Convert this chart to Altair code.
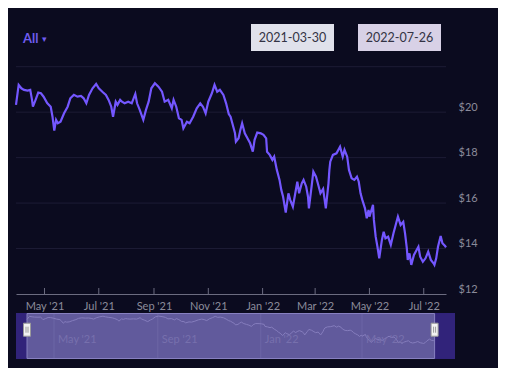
import altair as alt
import pandas as pd

# ---------------- data ----------------
dates = [
    "2021-03-30", "2021-04-02", "2021-04-05", "2021-04-08", "2021-04-12", "2021-04-15",
    "2021-04-17", "2021-04-18", "2021-04-21", "2021-04-24", "2021-04-27", "2021-04-30",
    "2021-05-04", "2021-05-08", "2021-05-10", "2021-05-12", "2021-05-14", "2021-05-16",
    "2021-05-19", "2021-05-23", "2021-05-27", "2021-05-30", "2021-06-03", "2021-06-07",
    "2021-06-11", "2021-06-14", "2021-06-17", "2021-06-20", "2021-06-24", "2021-06-28",
    "2021-07-01", "2021-07-05", "2021-07-09", "2021-07-12", "2021-07-15", "2021-07-17",
    "2021-07-20", "2021-07-22", "2021-07-25", "2021-07-27", "2021-07-30", "2021-08-03",
    "2021-08-07", "2021-08-11", "2021-08-13", "2021-08-16", "2021-08-20", "2021-08-23",
    "2021-08-26", "2021-08-29", "2021-09-02", "2021-09-06", "2021-09-10", "2021-09-13",
    "2021-09-17", "2021-09-21", "2021-09-23", "2021-09-26", "2021-09-29", "2021-10-02",
    "2021-10-04", "2021-10-08", "2021-10-11", "2021-10-15", "2021-10-19", "2021-10-23",
    "2021-10-26", "2021-10-29", "2021-11-01", "2021-11-05", "2021-11-08", "2021-11-11",
    "2021-11-14", "2021-11-18", "2021-11-21", "2021-11-24", "2021-11-26", "2021-11-28",
    "2021-12-01", "2021-12-02", "2021-12-05", "2021-12-07", "2021-12-09", "2021-12-12",
    "2021-12-15", "2021-12-18", "2021-12-21", "2021-12-23", "2021-12-26", "2021-12-30",
    "2022-01-02", "2022-01-05", "2022-01-06", "2022-01-09", "2022-01-12", "2022-01-14",
    "2022-01-17", "2022-01-20", "2022-01-22", "2022-01-24", "2022-01-27", "2022-01-30",
    "2022-02-01", "2022-02-04", "2022-02-06", "2022-02-09", "2022-02-11", "2022-02-14",
    "2022-02-16", "2022-02-19", "2022-02-21", "2022-02-22", "2022-02-25", "2022-02-27",
    "2022-03-02", "2022-03-04", "2022-03-07", "2022-03-10", "2022-03-13", "2022-03-16",
    "2022-03-17", "2022-03-18", "2022-03-21", "2022-03-25", "2022-03-29", "2022-04-01",
    "2022-04-03", "2022-04-06", "2022-04-08", "2022-04-11", "2022-04-14", "2022-04-17",
    "2022-04-19", "2022-04-21", "2022-04-23", "2022-04-26", "2022-04-28", "2022-04-30",
    "2022-05-01", "2022-05-05", "2022-05-06", "2022-05-08", "2022-05-10", "2022-05-12",
    "2022-05-15", "2022-05-17", "2022-05-19", "2022-05-22", "2022-05-25", "2022-05-28",
    "2022-05-31", "2022-06-02", "2022-06-05", "2022-06-08", "2022-06-10", "2022-06-12",
    "2022-06-13", "2022-06-15", "2022-06-17", "2022-06-20", "2022-06-23", "2022-06-25",
    "2022-06-27", "2022-06-30", "2022-07-03", "2022-07-06", "2022-07-09", "2022-07-12",
    "2022-07-13", "2022-07-15", "2022-07-17", "2022-07-20", "2022-07-22", "2022-07-25",
    "2022-07-26",
]
prices = [
    20.32, 21.20, 21.05, 20.98, 20.95, 20.98,
    20.54, 20.24, 20.54, 20.86, 20.83, 20.68,
    20.40, 20.24, 19.80, 19.19, 19.66, 19.51,
    19.58, 19.95, 20.24, 20.61, 20.76, 20.68,
    20.71, 20.61, 20.39, 20.76, 21.05, 21.24,
    21.05, 20.90, 20.76, 20.54, 20.24, 19.80,
    20.46, 20.32, 20.54, 20.46, 20.39, 20.46,
    20.39, 20.80, 20.39, 20.10, 19.66, 20.10,
    20.46, 21.05, 21.27, 21.12, 20.90, 20.46,
    20.54, 20.17, 20.54, 20.24, 19.73, 19.66,
    19.29, 19.58, 19.51, 19.80, 20.17, 20.39,
    20.24, 19.95, 20.46, 20.83, 21.20, 20.90,
    20.98, 20.76, 20.39, 19.92, 19.80, 19.51,
    19.07, 18.70, 18.85, 19.22, 19.51, 19.07,
    18.85, 18.63, 18.26, 18.78, 19.10, 19.07,
    19.00, 18.85, 18.26, 18.12, 17.90, 18.04,
    17.46, 17.02, 16.58, 16.28, 15.58, 16.43,
    16.14, 15.84, 16.28, 16.94, 16.43, 16.87,
    17.02, 16.72, 16.28, 15.77, 16.72, 17.38,
    17.16, 16.87, 16.43, 16.62, 15.77, 16.87,
    17.46, 17.82, 18.12, 18.19, 18.48, 18.04,
    18.34, 18.04, 17.46, 17.09, 17.02, 17.16,
    16.94, 16.43, 16.14, 15.77, 15.33, 15.70,
    15.40, 15.92, 15.26, 14.52, 14.08, 13.57,
    14.38, 14.74, 14.45, 14.52, 14.16, 14.67,
    15.11, 15.40, 15.04, 15.18, 14.67, 14.01,
    13.50, 13.79, 13.28, 13.72, 13.94, 14.08,
    13.64, 13.42, 13.57, 13.86, 13.50, 13.35,
    13.28, 13.57, 14.08, 14.55, 14.23, 14.11,
    14.05,
]

y_label_values = [12, 14, 16, 18, 20]
grid_values = [14, 16, 18, 20, 22]
x_tick_dates = ["2021-05-01", "2021-07-01", "2021-09-01", "2021-11-01",
                "2022-01-01", "2022-03-01", "2022-05-01", "2022-07-01"]
nav_tick_dates = ["2021-05-01", "2021-09-01", "2022-01-01", "2022-05-01"]
nav_tick_labels = ["May '21", "Sep '21", "Jan '22", "May '22"]
range_start = "2021-03-30"
range_end = "2022-07-26"
range_selector_label = "All"

# ---------------- styling ----------------
W, H = 490, 360
BG = "#0b0b1f"
GRID = "#1d1c35"
AXIS = "#6c6c80"
LABEL = "#8b8b9b"
LINE = "#7457ff"
PURPLE = "#6f5cf0"
NAV_OUT = "#31237a"
NAV_MASK = "#615a9c"
NAV_BORDER = "#8780c0"
NAV_LINE = "#857dbd"
NAV_GRID = "#6d66a6"
NAV_LABEL = "#7770ad"
FONT = "Lato"


def dt(s):
    y, m, d = (int(p) for p in s.split("-"))
    return alt.DateTime(year=y, month=m, date=d, utc=True)


def x_main():
    return alt.Scale(type="utc", domain=[dt(range_start), dt(range_end)], range=[8, 438])


def y_main():
    return alt.Scale(domain=[12, 22], range=[286, 58.7], zero=False, nice=False)


def x_nav():
    return alt.Scale(type="utc", domain=[dt(range_start), dt(range_end)], range=[19, 426.6])


def y_nav():
    return alt.Scale(domain=[8.76, 22.17], range=[351, 305], zero=False, nice=False)


df = pd.DataFrame({"date": dates, "price": prices})
one = pd.DataFrame({"k": [0]})

# gridlines
grid = alt.Chart(pd.DataFrame({"g": grid_values})).mark_rule(color=GRID, strokeWidth=1).encode(
    y=alt.Y("g:Q", scale=y_main(), axis=None),
    x=alt.XDatum(dt(range_start), type="temporal", scale=x_main(), axis=None),
    x2=alt.X2Datum(dt(range_end)),
)

# main line with axes
main_line = alt.Chart(df).mark_line(color=LINE, strokeWidth=2.2).encode(
    x=alt.X("date:T", scale=x_main(), title=None,
            axis=alt.Axis(orient="bottom", offset=-74, values=[dt(d) for d in x_tick_dates],
                          format="%b '%y", ticks=False, grid=False, domainColor=AXIS,
                          domainWidth=1, labelColor=LABEL, labelFont=FONT, labelFontSize=11,
                          labelPadding=6, labelFlush=False, labelOverlap=False)),
    y=alt.Y("price:Q", scale=y_main(), title=None,
            axis=alt.Axis(orient="right", offset=-52, values=y_label_values,
                          labelExpr="'$' + datum.value", ticks=False, tickSize=0,
                          domain=False, grid=False, labelColor=LABEL, labelFont=FONT,
                          labelFontSize=11, labelPadding=12, labelBaseline="bottom",
                          labelAlign="left", labelFlush=False, labelOverlap=False)),
)

# x ticks (pointing up from the axis line)
x_ticks = alt.Chart(pd.DataFrame({"d": x_tick_dates})).mark_rule(color=AXIS, strokeWidth=1).encode(
    x=alt.X("d:T", scale=x_main(), axis=None),
    y=alt.value(280),
    y2=alt.value(286),
)

# navigator
nav_outer = alt.Chart(one).mark_rect(color=NAV_OUT).encode(
    x=alt.value(8), x2=alt.value(447), y=alt.value(305), y2=alt.value(351)
)
nav_mask = alt.Chart(one).mark_rect(fill=NAV_MASK, stroke=NAV_BORDER, strokeWidth=1).encode(
    x=alt.XDatum(dt(range_start), type="temporal", scale=x_nav(), axis=None),
    x2=alt.X2Datum(dt(range_end)),
    y=alt.value(305.5), y2=alt.value(350.5),
)
nav_df = pd.DataFrame({"d": nav_tick_dates, "lab": nav_tick_labels})
nav_grid = alt.Chart(nav_df).mark_rule(color=NAV_GRID, strokeWidth=1).encode(
    x=alt.X("d:T", scale=x_nav(), axis=None),
    y=alt.value(306), y2=alt.value(350),
)
nav_text = alt.Chart(nav_df).mark_text(color=NAV_LABEL, font=FONT, fontSize=11, align="left",
                                       baseline="middle", dx=4).encode(
    x=alt.X("d:T", scale=x_nav(), axis=None),
    y=alt.value(332),
    text="lab:N",
)
nav_line = alt.Chart(df).mark_line(color=NAV_LINE, strokeWidth=1).encode(
    x=alt.X("date:T", scale=x_nav(), axis=None),
    y=alt.Y("price:Q", scale=y_nav(), axis=None),
)
handle_shape = ("M-0.35,-0.65L0.35,-0.65L0.35,0.65L-0.35,0.65Z "
                "M-0.1,-0.3L-0.1,0.3M0.1,-0.3L0.1,0.3")
nav_handles = alt.Chart(pd.DataFrame({"d": [range_start, range_end]})).mark_point(
    shape=handle_shape, size=400, filled=True, fill="#f2f2f2", stroke="#9a9a9a",
    strokeWidth=1, opacity=1,
).encode(
    x=alt.X("d:T", scale=x_nav(), axis=None),
    y=alt.value(321.7),
)

# range selector and date inputs
all_text = alt.Chart(one).mark_text(text=range_selector_label, color=PURPLE, font=FONT,
                                    fontSize=13, fontWeight="bold", align="left",
                                    baseline="middle").encode(x=alt.value(15), y=alt.value(31))
all_arrow = alt.Chart(one).mark_text(text="▾", color=PURPLE, font="DejaVu Sans", fontSize=9,
                                     align="left", baseline="middle").encode(
    x=alt.value(34), y=alt.value(31))
box1 = alt.Chart(one).mark_rect(color="#e0e1eb").encode(
    x=alt.value(243), x2=alt.value(326), y=alt.value(16), y2=alt.value(43))
box2 = alt.Chart(one).mark_rect(color="#d8d1e6").encode(
    x=alt.value(350), x2=alt.value(433), y=alt.value(16), y2=alt.value(43))
box1_text = alt.Chart(one).mark_text(text=range_start, color="#333344", font=FONT, fontSize=12.5,
                                     align="center", baseline="middle").encode(
    x=alt.value(284.5), y=alt.value(30))
box2_text = alt.Chart(one).mark_text(text=range_end, color="#333344", font=FONT, fontSize=12.5,
                                     align="center", baseline="middle").encode(
    x=alt.value(391.5), y=alt.value(30))

chart = alt.layer(
    grid, x_ticks, main_line,
    nav_outer, nav_mask, nav_grid, nav_line, nav_text, nav_handles,
    all_text, all_arrow, box1, box2, box1_text, box2_text,
).resolve_scale(
    x="independent", y="independent"
).properties(
    width=W, height=H, padding=0, background=BG,
    autosize=alt.AutoSizeParams(type="none"),
).configure_view(stroke=None)

chart.save("out.html", embed_options={"renderer": "svg", "actions": False})
